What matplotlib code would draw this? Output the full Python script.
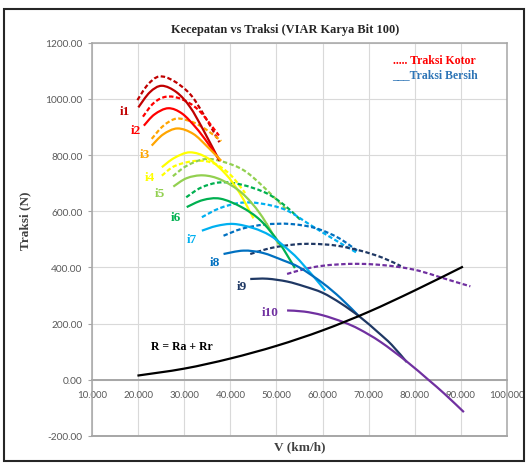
import numpy as np
import matplotlib
matplotlib.use("Agg")
import matplotlib.pyplot as plt
from matplotlib.path import Path
from matplotlib.patches import PathPatch, Rectangle

# ---- Traksi Kotor (gross traction, N) per gear vs speed (km/h) ----
i1_kotor_v = [19.8, 22.0, 24.5, 27.6, 31.2, 34.1, 37.6]
i1_kotor_f = [996, 1050, 1080, 1065, 1018, 947, 846]
i2_kotor_v = [21.0, 23.3, 26.0, 29.3, 33.1, 37.5]
i2_kotor_f = [937, 985, 1008, 1000, 960, 870]
i3_kotor_v = [22.9, 25.4, 28.3, 31.9, 35.0, 38.0]
i3_kotor_f = [858, 904, 930, 917, 888, 850]
i4_kotor_v = [25.1, 28.0, 32.7, 36.5, 40.0, 43.2]
i4_kotor_f = [727, 762, 780, 770, 730, 665]
i5_kotor_v = [27.5, 30.5, 34.5, 38.5, 43.0, 47.5, 52.5]
i5_kotor_f = [725, 762, 786, 776, 745, 682, 600]
i6_kotor_v = [30.4, 33.7, 37.8, 42.4, 47.9, 52.0, 55.5]
i6_kotor_f = [650, 685, 703, 695, 664, 618, 565]
i7_kotor_v = [33.8, 37.5, 42.0, 46.5, 52.0, 57.5, 62.0, 67.5]
i7_kotor_f = [579, 610, 630, 628, 605, 550, 505, 452]
i8_kotor_v = [38.5, 42.5, 47.5, 53.0, 58.5, 63.5, 67.5]
i8_kotor_f = [513, 538, 553, 555, 540, 505, 460]
i9_kotor_v = [44.3, 49.0, 54.0, 58.0, 63.0, 68.2, 73.0, 77.0]
i9_kotor_f = [448, 470, 482, 484, 478, 460, 435, 405]
i10_kotor_v = [52.3, 56.0, 59.5, 63.5, 67.5, 72.0, 76.9, 81.0, 85.6, 89.0, 92.1]
i10_kotor_f = [377, 394, 405, 411, 413, 410, 401, 388, 365, 348, 333]

# ---- Traksi Bersih (net traction, N) per gear vs speed (km/h) ----
i1_bersih_v = [20.0, 22.5, 25.1, 28.3, 31.2, 34.1, 37.6]
i1_bersih_f = [970, 1024, 1047, 1024, 972, 890, 780]
i2_bersih_v = [21.2, 23.5, 26.5, 29.5, 32.5, 35.0, 37.5]
i2_bersih_f = [905, 945, 967, 948, 898, 845, 785]
i3_bersih_v = [22.9, 25.4, 28.5, 31.9, 35.0, 38.0]
i3_bersih_f = [834, 874, 895, 876, 830, 780]
i4_bersih_v = [25.1, 27.8, 31.2, 35.0, 39.0, 42.0, 45.0]
i4_bersih_f = [757, 790, 810, 790, 732, 665, 575]
i5_bersih_v = [27.6, 30.5, 34.1, 38.0, 42.5, 46.5, 50.5]
i5_bersih_f = [688, 718, 728, 712, 665, 590, 482]
i6_bersih_v = [30.5, 34.0, 37.8, 42.4, 46.5, 50.5, 54.0]
i6_bersih_f = [615, 640, 645, 615, 568, 490, 398]
i7_bersih_v = [33.8, 37.0, 40.7, 45.0, 48.5, 51.5, 55.0, 60.6]
i7_bersih_f = [531, 548, 555, 540, 515, 478, 425, 318]
i8_bersih_v = [38.5, 42.8, 47.0, 51.5, 55.0, 60.0, 64.0, 68.0]
i8_bersih_f = [448, 460, 452, 425, 400, 345, 290, 225]
i9_bersih_v = [44.3, 48.0, 52.3, 56.0, 60.0, 64.0, 68.2, 72.0, 75.0, 78.3]
i9_bersih_f = [359, 360, 350, 333, 310, 272, 223, 170, 125, 63]
i10_bersih_v = [52.3, 56.0, 60.0, 64.6, 68.0, 72.6, 78.3, 83.0, 86.5, 90.7]
i10_bersih_f = [247, 243, 230, 205, 180, 135, 65, 0, -50, -115]

# ---- Total resistance R = Ra + Rr ----
resist_v = [19.8, 30.0, 40.0, 50.0, 60.0, 70.0, 80.0, 90.5]
resist_f = [15, 40, 76, 121, 176, 242, 318, 403]

gear_names = ["i1", "i2", "i3", "i4", "i5", "i6", "i7", "i8", "i9", "i10"]
x_ticks = [10, 20, 30, 40, 50, 60, 70, 80, 90, 100]
y_ticks = [-200, 0, 200, 400, 600, 800, 1000, 1200]

kotor = [(i1_kotor_v, i1_kotor_f), (i2_kotor_v, i2_kotor_f), (i3_kotor_v, i3_kotor_f),
         (i4_kotor_v, i4_kotor_f), (i5_kotor_v, i5_kotor_f), (i6_kotor_v, i6_kotor_f),
         (i7_kotor_v, i7_kotor_f), (i8_kotor_v, i8_kotor_f), (i9_kotor_v, i9_kotor_f),
         (i10_kotor_v, i10_kotor_f)]
bersih = [(i1_bersih_v, i1_bersih_f), (i2_bersih_v, i2_bersih_f), (i3_bersih_v, i3_bersih_f),
          (i4_bersih_v, i4_bersih_f), (i5_bersih_v, i5_bersih_f), (i6_bersih_v, i6_bersih_f),
          (i7_bersih_v, i7_bersih_f), (i8_bersih_v, i8_bersih_f), (i9_bersih_v, i9_bersih_f),
          (i10_bersih_v, i10_bersih_f)]

colors = ["#C00000", "#FF0000", "#FFA500", "#FFFF00", "#92D050",
          "#00B050", "#00B0F0", "#0070C0", "#1F3864", "#7030A0"]
# label anchor (speed, traction) for each gear name
label_pos = [(17.1, 958), (19.4, 890), (21.5, 804), (22.4, 721), (24.7, 665),
             (28.2, 579), (31.6, 502), (36.7, 421), (42.5, 333), (48.6, 243)]

SERIF = "Liberation Serif"
TICKFONT = "Lato"


def smooth_path(v, f):
    """Smooth (Excel-like) cubic Bezier path through the given points."""
    pts = np.column_stack([v, f]).astype(float)
    n = len(pts)
    verts = [pts[0]]
    codes = [Path.MOVETO]
    for k in range(n - 1):
        p0 = pts[k - 1] if k > 0 else pts[k]
        p1 = pts[k]
        p2 = pts[k + 1]
        p3 = pts[k + 2] if k + 2 < n else pts[k + 1]
        verts += [p1 + (p2 - p0) / 6.0, p2 - (p3 - p1) / 6.0, p2]
        codes += [Path.CURVE4] * 3
    return Path(verts, codes)


def draw_curve(ax, v, f, color, dashed=False, lw=1.6, z=3):
    ls = (0, (2.0, 1.1)) if dashed else "-"
    patch = PathPatch(smooth_path(v, f), fill=False, edgecolor=color,
                      linewidth=lw, linestyle=ls, zorder=z, capstyle="butt")
    ax.add_patch(patch)


fig = plt.figure(figsize=(5.28, 4.64), dpi=100)
fig.patch.set_facecolor("white")

ax = fig.add_axes([0.1748, 0.0582, 0.7849, 0.8474])
ax.set_xlim(10, 100)
ax.set_ylim(-200, 1200)
ax.set_xticks(x_ticks)
ax.set_yticks(y_ticks)
ax.set_xticklabels([f"{t:.3f}" for t in x_ticks])
ax.set_yticklabels([f"{t:.2f}" for t in y_ticks])
ax.grid(True, color="#D9D9D9", linewidth=0.8, zorder=0)
ax.set_axisbelow(True)

for side in ("left", "right", "top"):
    ax.spines[side].set_color("#A6A6A6")
    ax.spines[side].set_linewidth(1.1)
# horizontal category axis sits on zero
ax.spines["bottom"].set_position(("data", 0))
ax.spines["bottom"].set_color("#A6A6A6")
ax.spines["bottom"].set_linewidth(1.4)
ax.axhline(-200, color="#A6A6A6", linewidth=1.4, clip_on=False, zorder=1)

ax.tick_params(axis="x", length=0, pad=7, labelsize=7, labelcolor="#595959")
ax.tick_params(axis="y", length=3, width=0.8, color="#A6A6A6", pad=4,
               labelsize=7.3, labelcolor="#595959")
for lab in ax.get_xticklabels() + ax.get_yticklabels():
    lab.set_fontfamily(TICKFONT)

# gross traction (dashed) and net traction (solid)
for (v, f), c in zip(kotor, colors):
    draw_curve(ax, v, f, c, dashed=True)
for (v, f), c in zip(bersih, colors):
    draw_curve(ax, v, f, c, dashed=False)

# resistance curve
draw_curve(ax, resist_v, resist_f, "#000000", lw=1.6, z=4)

# gear labels
for name, (lv, lf), c in zip(gear_names, label_pos, colors):
    ax.text(lv, lf, name, color=c, fontsize=9.5, fontfamily=SERIF,
            fontweight="bold", ha="center", va="center", zorder=5)

ax.text(29.4, 122, "R = Ra + Rr", color="#000000", fontsize=8.5,
        fontfamily=SERIF, fontweight="bold", ha="center", va="center", zorder=5)

# legend notes
ax.text(75.2, 1139, "..... Traksi Kotor", color="#FF0000", fontsize=8.5,
        fontfamily=SERIF, fontweight="bold", ha="left", va="center")
ax.text(75.2, 1089, "___Traksi Bersih", color="#2E75B6", fontsize=8.5,
        fontfamily=SERIF, fontweight="bold", ha="left", va="center")

fig.text(0.54, 0.935, "Kecepatan vs Traksi (VIAR Karya Bit 100)", fontsize=8.9,
         fontfamily=SERIF, fontweight="bold", color="#262626", ha="center", va="center")
fig.text(0.0473, 0.5237, "Traksi (N)", fontsize=9.5, fontfamily=SERIF,
         fontweight="bold", color="#404040", rotation=90, ha="center", va="center")
fig.text(0.568, 0.037, "V (km/h)", fontsize=9.5, fontfamily=SERIF,
         fontweight="bold", color="#404040", ha="center", va="center")

# outer chart frame
fig.patches.append(Rectangle((4 / 528, 2 / 464), 520 / 528, 452 / 464,
                             transform=fig.transFigure, fill=False,
                             edgecolor="#262626", linewidth=1.5))

fig.savefig("out.png", dpi=100, facecolor="white")
